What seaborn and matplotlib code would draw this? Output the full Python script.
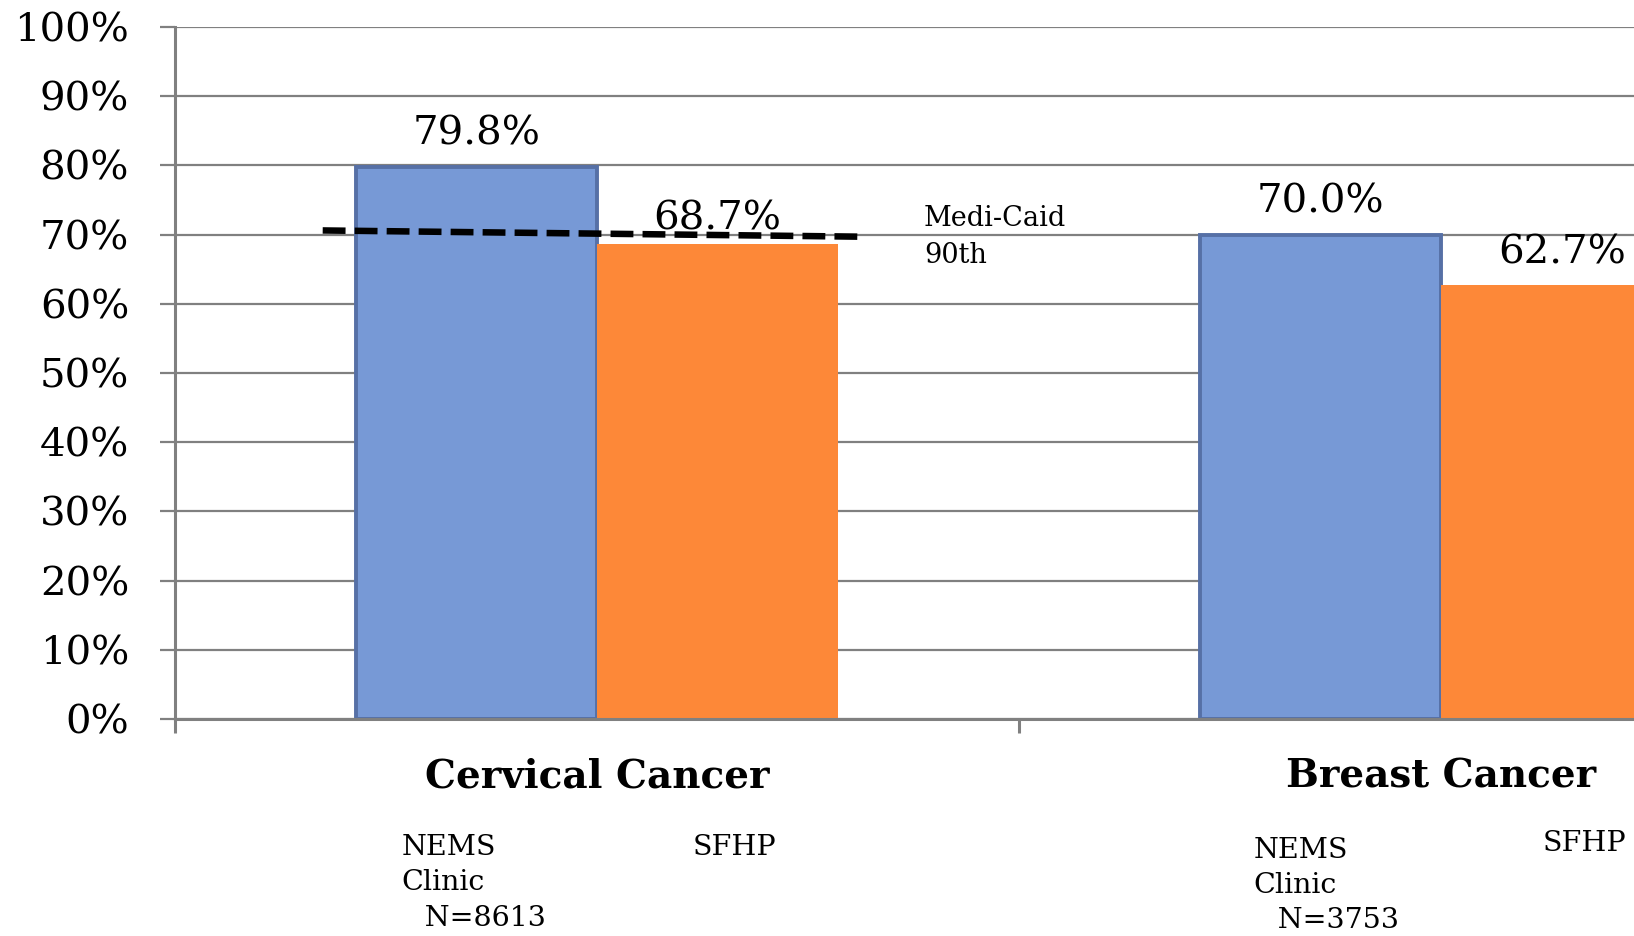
import matplotlib
matplotlib.use("Agg")
import matplotlib.pyplot as plt
import seaborn as sns
import pandas as pd

# Screening rates by cancer type and provider
categories = ["Cervical Cancer", "Breast Cancer"]
providers = ["NEMS Clinic", "SFHP"]
nems_rates = [79.8, 70.0]
sfhp_rates = [68.7, 62.7]
nems_sample_sizes = [8613, 3753]
# Medi-Caid 90th percentile benchmark (dashed line, start and end value)
medicaid_90th = [70.6, 69.7]
y_ticks = list(range(0, 101, 10))

df = pd.DataFrame({
    "category": categories * 2,
    "provider": [providers[0]] * 2 + [providers[1]] * 2,
    "rate": nems_rates + sfhp_rates,
})

sns.set_theme(style="white")
plt.rcParams["font.family"] = ["DejaVu Serif"]
plt.rcParams["text.color"] = "black"
plt.rcParams["xtick.labelcolor"] = "black"
plt.rcParams["ytick.labelcolor"] = "black"

BLUE = "#7799D6"
BLUE_EDGE = "#5670A6"
ORANGE = "#FD8838"
GRID = "#808080"

fig = plt.figure(figsize=(16.34, 9.36), dpi=100)
# The plot area runs off the right edge of the canvas
ax = fig.add_axes([175 / 1634, 217 / 936, 1688 / 1634, 692 / 936])

sns.barplot(data=df, x="category", y="rate", hue="provider",
            palette={providers[0]: BLUE, providers[1]: ORANGE},
            width=0.572, saturation=1, legend=False, ax=ax)

for patch in ax.containers[0]:
    patch.set_edgecolor(BLUE_EDGE)
    patch.set_linewidth(2.8)
for patch in ax.containers[1]:
    patch.set_linewidth(0)

ax.set_ylim(0, 100)
ax.set_xlim(-0.5, 1.5)
ax.set_axisbelow(True)
ax.yaxis.grid(True, color=GRID, linewidth=1.6)
ax.xaxis.grid(False)

for side in ("top", "right"):
    ax.spines[side].set_visible(False)
for side in ("left", "bottom"):
    ax.spines[side].set_color(GRID)
    ax.spines[side].set_linewidth(2.2)

ax.set_yticks(y_ticks)
ax.set_yticklabels([f"{v}%" for v in y_ticks])
ax.tick_params(axis="y", length=11, width=1.6, color=GRID, pad=22,
               labelsize=29, labelcolor="black", left=True)

ax.set_xticks([-0.5, 0.5, 1.5])
ax.set_xticklabels([])
ax.set_xticks([0, 1], minor=True)
ax.set_xticklabels(categories, minor=True, fontweight="bold")
ax.tick_params(axis="x", which="major", length=10, width=2.2, color=GRID,
               bottom=True)
ax.tick_params(axis="x", which="minor", length=0, pad=28, labelsize=28,
               labelcolor="black")
ax.set_xlabel("")
ax.set_ylabel("")

# Value labels above each bar
label_offsets = [[22, 22], [14, 22]]
for ci, container in enumerate(ax.containers):
    for bi, patch in enumerate(container):
        h = patch.get_height()
        ax.annotate(f"{h:.1f}%",
                    (patch.get_x() + patch.get_width() / 2, h),
                    xytext=(0, label_offsets[ci][bi]),
                    textcoords="offset pixels",
                    ha="center", va="baseline", fontsize=29, color="black",
                    annotation_clip=False)

# Benchmark line across the cervical group
ax.plot([-0.325, 0.3116], medicaid_90th, color="black", linewidth=4.7,
        dashes=(3.5, 1.4), solid_capstyle="butt", zorder=5)
ax.text(0.3874, 74.3, "Medi-Caid\n90th", ha="left", va="top", fontsize=19.5,
        linespacing=1.5, color="black")

# Provider labels below each group
nems_x = [-0.232, 0.778]
sfhp_x = [0.113, 1.120]
nems_y = [-16.6, -17.0]
sfhp_y = [-16.6, -16.1]
for i in range(len(categories)):
    ax.text(nems_x[i], nems_y[i],
            f"NEMS\nClinic\n  \u2009N={nems_sample_sizes[i]}",
            ha="left", va="top", fontsize=20.5, linespacing=1.4,
            color="black", clip_on=False)
    ax.text(sfhp_x[i], sfhp_y[i], "SFHP", ha="left", va="top", fontsize=20.5,
            color="black", clip_on=False)

fig.savefig("out.png", dpi=100, facecolor="white")
